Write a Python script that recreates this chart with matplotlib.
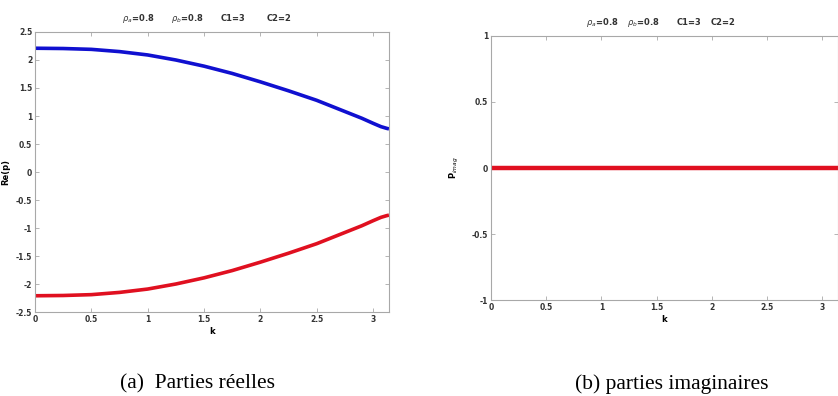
import numpy as np
import matplotlib
matplotlib.use('Agg')
import matplotlib.pyplot as plt

# valeurs
k_vals = [0, 0.25, 0.5, 0.75, 1.0, 1.25, 1.5, 1.75, 2.0, 2.25, 2.5, 2.75, 2.9, 3.0, 3.07, 3.12, np.pi]
re_pos = [2.21, 2.205, 2.19, 2.15, 2.09, 2.0, 1.89, 1.76, 1.61, 1.45, 1.28, 1.08, 0.96, 0.87, 0.81, 0.78, 0.77]
re_neg = [-v for v in re_pos]
im_vals = [0.0] * len(k_vals)

params = [r'$\rho_a$=0.8', r'$\rho_b$=0.8', 'C1=3', 'C2=2']
left_yticks = [2.5, 2, 1.5, 1, 0.5, 0, -0.5, -1, -1.5, -2, -2.5]
right_yticks = [1, 0.5, 0, -0.5, -1]
xticks = [0, 0.5, 1, 1.5, 2, 2.5, 3]


def fmt(v):
    s = ('%g' % v)
    return s


def style_axes(ax, yticks):
    for sp in ax.spines.values():
        sp.set_color('#a8a8a8')
        sp.set_linewidth(0.8)
    ax.set_xlim(0, np.pi)
    ax.set_xticks(xticks)
    ax.set_xticklabels([fmt(v) for v in xticks], fontsize=5.5, fontweight='bold', color='#333333')
    ax.set_yticks(yticks)
    ax.set_yticklabels([fmt(v) for v in yticks], fontsize=5.5, fontweight='bold', color='#333333')
    ax.tick_params(direction='in', length=3, width=0.6, color='#a8a8a8', top=True, right=True, pad=2)
    ax.set_xlabel('k', fontsize=6, fontweight='bold', labelpad=2)


fig = plt.figure(figsize=(8.38, 3.96), dpi=100)

ax1 = fig.add_axes([0.0418, 0.2121, 0.4224, 0.7071])
ax1.plot(k_vals, re_pos, color='#1010d0', linewidth=2.6, solid_capstyle='butt')
ax1.plot(k_vals, re_neg, color='#e01020', linewidth=2.6, solid_capstyle='butt')
ax1.set_ylim(-2.5, 2.5)
style_axes(ax1, left_yticks)
ax1.set_ylabel('Re(p)', fontsize=6, fontweight='bold', labelpad=4)
for x, t in zip([0.29, 0.43, 0.56, 0.69], params):
    ax1.text(x, 1.04, t, transform=ax1.transAxes, fontsize=6, fontweight='bold', ha='center', color='#333333')

ax2 = fig.add_axes([0.586, 0.2424, 0.414, 0.6667])
ax2.plot(k_vals, im_vals, color='#e01020', linewidth=3.2)
ax2.set_ylim(-1, 1)
style_axes(ax2, right_yticks)
ax2.set_ylabel(r'P$_{imag}$', fontsize=6, fontweight='bold', labelpad=8)
for x, t in zip([0.32, 0.44, 0.57, 0.67], params):
    ax2.text(x, 1.04, t, transform=ax2.transAxes, fontsize=6, fontweight='bold', ha='center', color='#333333')

fig.text(0.236, 0.018, '(a)  Parties réelles', fontsize=15.5, family='Liberation Serif', ha='center')
fig.text(0.802, 0.018, '(b) parties imaginaires', fontsize=15.5, family='Liberation Serif', ha='center')

fig.savefig('out.png', dpi=100)
